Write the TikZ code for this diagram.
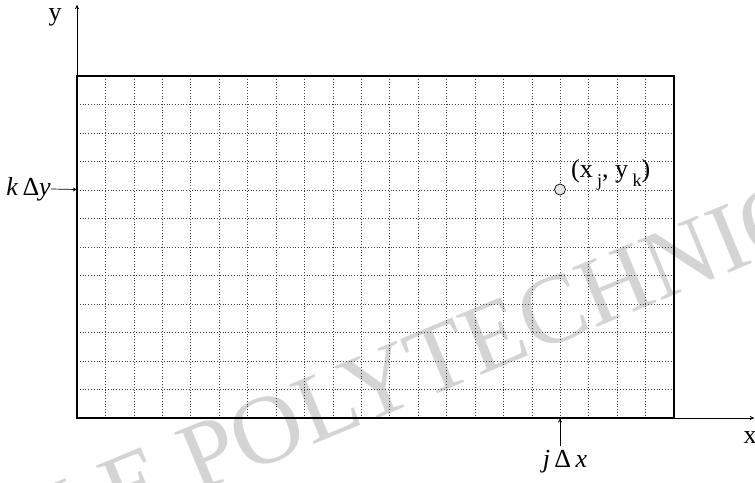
\documentclass[tikz,border=0pt]{standalone}
\usepackage{fontspec}
\setmainfont{Liberation Serif}
\usetikzlibrary{arrows.meta}
\begin{document}
\begin{tikzpicture}[x=1pt,y=-1pt,
  lbl/.style={inner sep=0pt,font=\fontsize{26}{30}\selectfont},
  wm/.style={inner sep=0pt,text=black!17,font=\fontsize{98}{102}\selectfont},
  gridline/.style={black!75,line width=0.6pt,dash pattern=on 0.7pt off 2.1pt},
  frame/.style={line width=1.6pt},
  axis/.style={line width=0.8pt,-{To[length=4pt,width=4pt]}},
  pointer/.style={line width=0.7pt,-{To[length=4pt,width=4pt]}}]
\useasboundingbox (0,0) rectangle (755,482);
% watermark
\begin{scope}
\clip (0,0) rectangle (755,482);
\node[wm,rotate=22.5,anchor=base west] (wm) at (196,494) {\llap{ECOLE\ }POLYTECHNIQUE};
\end{scope}
% grid
\foreach \i in {1,...,20} \draw[gridline] ({77+\i*28.4286},76) -- ({77+\i*28.4286},418);
\foreach \j in {1,...,11} \draw[gridline] (77,{76+\j*28.5}) -- (674,{76+\j*28.5});
% frame and axes
\coordinate (O) at (77,418);
\coordinate (ytip) at (77,5);
\coordinate (xtip) at (754,418);
\draw[axis] (O) -- (ytip);
\draw[axis] (O) -- (xtip);
\draw[frame] (77,76) rectangle (674,418);
\node[lbl] (ylab) at (55,17) {y};
\node[lbl] (xlab) at (750,438) {x};
% k Delta y
\node[lbl,anchor=east] (ky) at (51,189) {\textit{k}\,Δ\textit{y}};
\coordinate (kyend) at (77,189.5);
\draw[pointer] (ky.east) -- (kyend);
% point
\node[circle,draw,line width=0.7pt,fill=black!10,minimum size=11pt,inner sep=0pt] (pt) at (560,189.5) {};
\node[lbl,anchor=base west] (ptlab) at (571,177) {(x\,\raisebox{-0.35em}{\fontsize{18}{20}\selectfont j}, y\,\raisebox{-0.35em}{\fontsize{18}{20}\selectfont k})};
% j Delta x
\coordinate (jtail) at (560,446);
\coordinate (jtip) at (560,418.5);
\draw[pointer] (jtail) -- (jtip);
\node[lbl] (jx) at (565,462) {\textit{j}\,Δ\,\textit{x}};
\end{tikzpicture}
\end{document}
